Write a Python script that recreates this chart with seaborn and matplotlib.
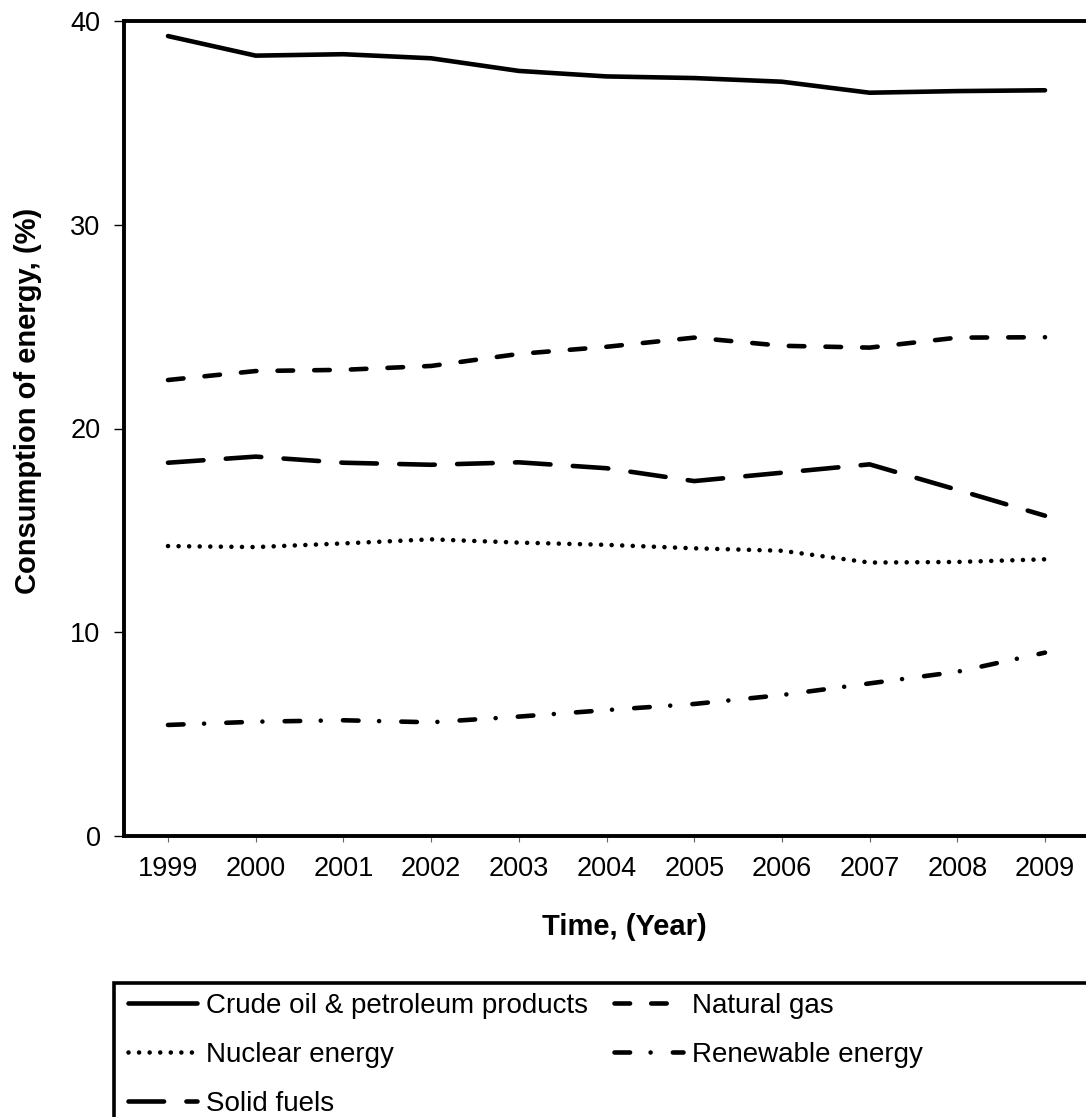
import numpy as np
import pandas as pd
import matplotlib
matplotlib.use("Agg")
import matplotlib.pyplot as plt
from matplotlib.patches import Rectangle
import seaborn as sns

# ---------------- data ----------------
years = [1999, 2000, 2001, 2002, 2003, 2004, 2005, 2006, 2007, 2008, 2009]
crude_oil = [39.26, 38.30, 38.37, 38.17, 37.55, 37.28, 37.20, 37.02, 36.48, 36.56, 36.60]
natural_gas = [22.38, 22.82, 22.88, 23.07, 23.66, 24.01, 24.46, 24.06, 23.97, 24.46, 24.48]
nuclear = [14.23, 14.18, 14.36, 14.56, 14.40, 14.29, 14.12, 14.00, 13.42, 13.45, 13.58]
renewable = [5.45, 5.61, 5.68, 5.58, 5.86, 6.18, 6.48, 6.92, 7.49, 8.06, 9.00]
solid_fuels = [18.32, 18.62, 18.32, 18.22, 18.34, 18.05, 17.42, 17.83, 18.24, 16.99, 15.72]

series_names = ["Crude oil & petroleum products", "Natural gas", "Nuclear energy",
                "Renewable energy", "Solid fuels"]
series_values = [crude_oil, natural_gas, nuclear, renewable, solid_fuels]
y_ticks = [0, 10, 20, 30, 40]

# ---------------- style ----------------
sns.set_theme(style="white")
plt.rcParams["font.family"] = ["Liberation Sans", "DejaVu Sans"]
plt.rcParams["lines.scale_dashes"] = False
plt.rcParams["text.color"] = "black"
plt.rcParams["axes.labelcolor"] = "black"
plt.rcParams["xtick.color"] = "black"
plt.rcParams["ytick.color"] = "black"

W, H = 1086, 1117
fig = plt.figure(figsize=(W / 100, H / 100), dpi=100, facecolor="white")

ax_left, ax_right = 124.15, 1088.85
ax_top, ax_bottom = 21, 836
ax = fig.add_axes([ax_left / W, 1 - ax_bottom / H, (ax_right - ax_left) / W, (ax_bottom - ax_top) / H])
ax.set_facecolor("white")

styles = {
    "Crude oil & petroleum products": "-",
    "Natural gas": (0, (11.2, 15.2)),
    "Nuclear energy": (0, (0.01, 7.6)),
    "Renewable energy": (0, (11.2, 14.8, 0.01, 16.0)),
    "Solid fuels": (0, (25.6, 16.1)),
}

lines = {}
for name, vals in zip(series_names, series_values):
    df = pd.DataFrame({"Year": years, "Value": vals})
    n_before = len(ax.lines)
    sns.lineplot(data=df, x="Year", y="Value", ax=ax, color="black", linewidth=3.3,
                 linestyle=styles[name], dash_capstyle="round", solid_capstyle="round",
                 errorbar=None, legend=False)
    ln = ax.lines[n_before]
    ln.set_label(name)
    lines[name] = ln

if ax.get_legend() is not None:
    ax.get_legend().remove()

ax.set_xlim(1998.5, 2009.5)
ax.set_ylim(0, 40)
ax.set_xticks(years)
ax.set_xticklabels([str(y) for y in years])
ax.set_yticks(y_ticks)
ax.set_xlabel("")
ax.set_ylabel("")

for side in ["left", "bottom", "top", "right"]:
    ax.spines[side].set_visible(True)
    ax.spines[side].set_color("black")
    ax.spines[side].set_linewidth(2.8)

ax.tick_params(axis="y", which="major", direction="out", length=7, width=1.0,
               color="black", labelsize=19.5, pad=10, left=True, labelcolor="black")
ax.tick_params(axis="x", which="major", direction="out", length=4.5, width=0.8,
               color="#666666", labelsize=19.5, pad=10, bottom=True, labelcolor="black")

# axis titles
fig.text(28 / W, 1 - 401 / H, "Consumption of energy, (%)", rotation=90,
         ha="center", va="center", fontsize=21, fontweight="bold", color="black")
fig.text(624 / W, 1 - 935 / H, "Time, (Year)", ha="center", va="baseline",
         fontsize=21, fontweight="bold", color="black")

# legend frame (extends past the figure edges, as in the reference)
frame = Rectangle((114 / W, -0.05), 1.1, (1 - 983.5 / H) + 0.05,
                  transform=fig.transFigure, facecolor="none", edgecolor="black",
                  linewidth=2.6, clip_on=False)
fig.add_artist(frame)

col1 = ["Crude oil & petroleum products", "Nuclear energy", "Solid fuels"]
col2 = ["Natural gas", "Renewable energy"]
common = dict(frameon=False, fontsize=20, handlelength=2.5, handletextpad=0.3,
              labelspacing=0.82, borderpad=0, borderaxespad=0, loc="upper left",
              labelcolor="black")
fig.legend([lines[n] for n in col1], col1, bbox_to_anchor=(128 / W, 1 - 993 / H),
           bbox_transform=fig.transFigure, **common)
fig.legend([lines[n] for n in col2], col2, bbox_to_anchor=(614 / W, 1 - 993 / H),
           bbox_transform=fig.transFigure, **common)

fig.savefig("out.png", dpi=100, facecolor="white")
